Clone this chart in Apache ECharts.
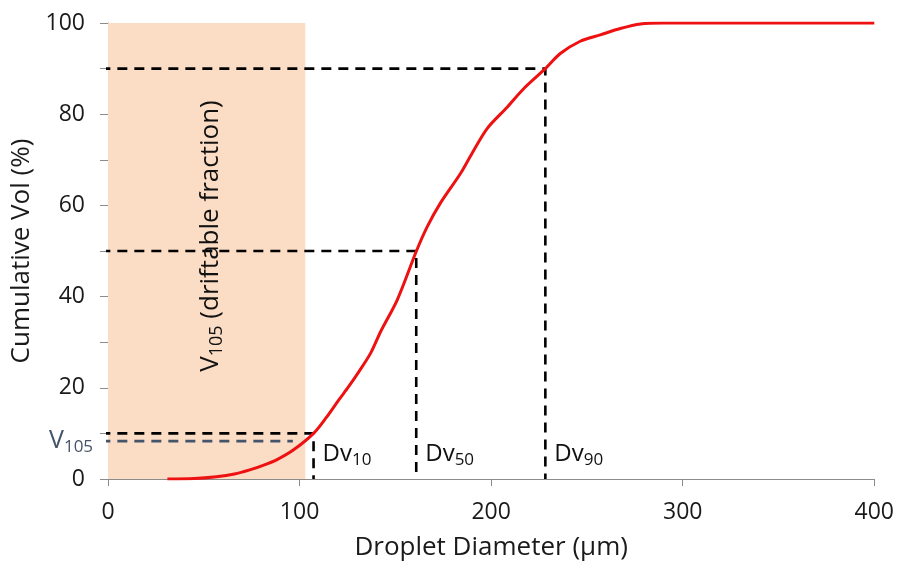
<!DOCTYPE html>
<html>
<head>
<meta charset="utf-8">
<script src="https://cdn.jsdelivr.net/npm/echarts@6/dist/echarts.min.js"></script>
<style>
  html, body { margin: 0; padding: 0; background: #ffffff; }
  #chart { width: 897px; height: 566px; }
</style>
</head>
<body>
<div id="chart"></div>
<script>
// Cumulative volume distribution of spray droplets
const diameters = [31, 45, 56.6, 66, 74, 81, 88, 96.9, 107.3, 114, 120.4, 125.5, 130.9, 137.1, 142.3, 151, 161, 166.6, 173.5, 184, 190, 198, 208.5, 217.2, 228.3, 236.1, 246.5, 257, 267.4, 278, 290, 400];
const cumulative = [0, 0.1, 0.5, 1.1, 2, 3, 4.2, 6.4, 10, 13.5, 17.3, 20.2, 23.5, 27.6, 32.3, 39.3, 50, 55.3, 60.5, 67, 71.4, 76.9, 81.6, 85.7, 90, 93.3, 96, 97.4, 98.8, 99.8, 100, 100];

// Characteristic diameters Dv10, Dv50, Dv90
const dvNames = ['10', '50', '90'];
const dvPercent = [10, 50, 90];
const dvDiameter = [107.3, 160.9, 228.3];

// Driftable fraction: volume below 105 µm
const v105Percent = 8.3;
const v105Diameter = 96.5;
const driftZoneEnd = 103;

const xMax = 400, xStep = 100;
const yMax = 100, yStep = 10, yLabelStep = 20;
const dashStart = -4;

const FONT = '"Open Sans", "Noto Sans", sans-serif';
const chart = echarts.init(document.getElementById('chart'));

const curve = diameters.map((d, i) => [d, cumulative[i]]);

const dvSeries = dvPercent.map((p, i) => ({
  type: 'line',
  name: 'Dv' + dvNames[i],
  data: [[dashStart, p], [dvDiameter[i], p], [dvDiameter[i], 0]],
  symbol: 'none',
  clip: false,
  silent: true,
  z: 3,
  lineStyle: { color: '#000000', width: 2.6, type: [10, 7] }
}));

const option = {
  animation: false,
  backgroundColor: '#ffffff',
  grid: { left: 108, right: 22, top: 23, bottom: 87 },
  xAxis: {
    type: 'value',
    min: 0, max: xMax, interval: xStep,
    name: 'Droplet Diameter (µm)',
    nameLocation: 'middle',
    nameGap: 56,
    nameTextStyle: { fontFamily: FONT, fontSize: 26, color: '#1a1a1a' },
    axisLine: { show: true, onZero: false, lineStyle: { color: '#8c8c8c', width: 1 } },
    axisTick: { show: true, inside: false, length: 7, lineStyle: { color: '#8c8c8c' } },
    axisLabel: { fontFamily: FONT, fontSize: 23, color: '#1a1a1a', margin: 22 },
    splitLine: { show: false }
  },
  yAxis: {
    type: 'value',
    min: 0, max: yMax, interval: yStep,
    name: 'Cumulative Vol (%)',
    nameLocation: 'middle',
    nameGap: 66,
    nameTextStyle: { fontFamily: FONT, fontSize: 26, color: '#1a1a1a' },
    axisLine: { show: true, lineStyle: { color: '#8c8c8c', width: 1 } },
    axisTick: { show: true, inside: false, length: 8, lineStyle: { color: '#8c8c8c' } },
    axisLabel: {
      fontFamily: FONT, fontSize: 23, color: '#1a1a1a', margin: 23,
      formatter: v => (v % yLabelStep === 0 ? String(v) : '')
    },
    splitLine: { show: false }
  },
  series: [
    {
      type: 'line',
      name: 'Cumulative volume',
      data: curve,
      smooth: 0.3,
      symbol: 'none',
      z: 4,
      lineStyle: { color: '#ee1111', width: 3 },
      markArea: {
        silent: true,
        itemStyle: { color: '#fbdcc4' },
        data: [[{ xAxis: 0 }, { xAxis: driftZoneEnd }]]
      }
    },
    ...dvSeries,
    {
      type: 'line',
      name: 'V105',
      data: [[dashStart, v105Percent], [v105Diameter, v105Percent]],
      symbol: 'none',
      clip: false,
      silent: true,
      z: 3,
      lineStyle: { color: '#44546a', width: 2.6, type: [10, 7] }
    }
  ]
};

chart.setOption(option);

// Rich-text styles for a main string with a lowered subscript
const sub = (color, size, subSize, drop) => ({
  main: { fontFamily: FONT, fontSize: size, fill: color, lineHeight: size + 6, verticalAlign: 'middle' },
  s: { fontFamily: FONT, fontSize: subSize, fill: color, lineHeight: subSize, padding: [drop, 0, 0, 0], verticalAlign: 'middle' }
});

const graphics = [];
dvNames.forEach((n, i) => {
  const p = chart.convertToPixel({ gridIndex: 0 }, [dvDiameter[i], 0]);
  graphics.push({
    type: 'text',
    x: p[0] + 9,
    y: p[1] - 40,
    z: 10,
    style: {
      text: '{main|Dv}{s|' + n + '}',
      rich: sub('#111111', 24, 17, 12)
    }
  });
});

const vp = chart.convertToPixel({ gridIndex: 0 }, [0, v105Percent]);
graphics.push({
  type: 'text',
  x: vp[0] - 59,
  y: vp[1] - 16,
  z: 10,
  style: {
    text: '{main|V}{s|105}',
    rich: sub('#44546a', 25, 17, 14)
  }
});

const cp = chart.convertToPixel({ gridIndex: 0 }, [driftZoneEnd / 2, yMax / 2]);
graphics.push({
  type: 'text',
  x: cp[0] + 4,
  y: cp[1] - 15,
  rotation: Math.PI / 2,
  z: 10,
  style: {
    text: '{main|V}{s|105}{main| (driftable fraction)}',
    rich: sub('#111111', 26, 18, 13),
    align: 'center',
    verticalAlign: 'middle'
  }
});

chart.setOption({ graphic: graphics });
</script>
</body>
</html>
